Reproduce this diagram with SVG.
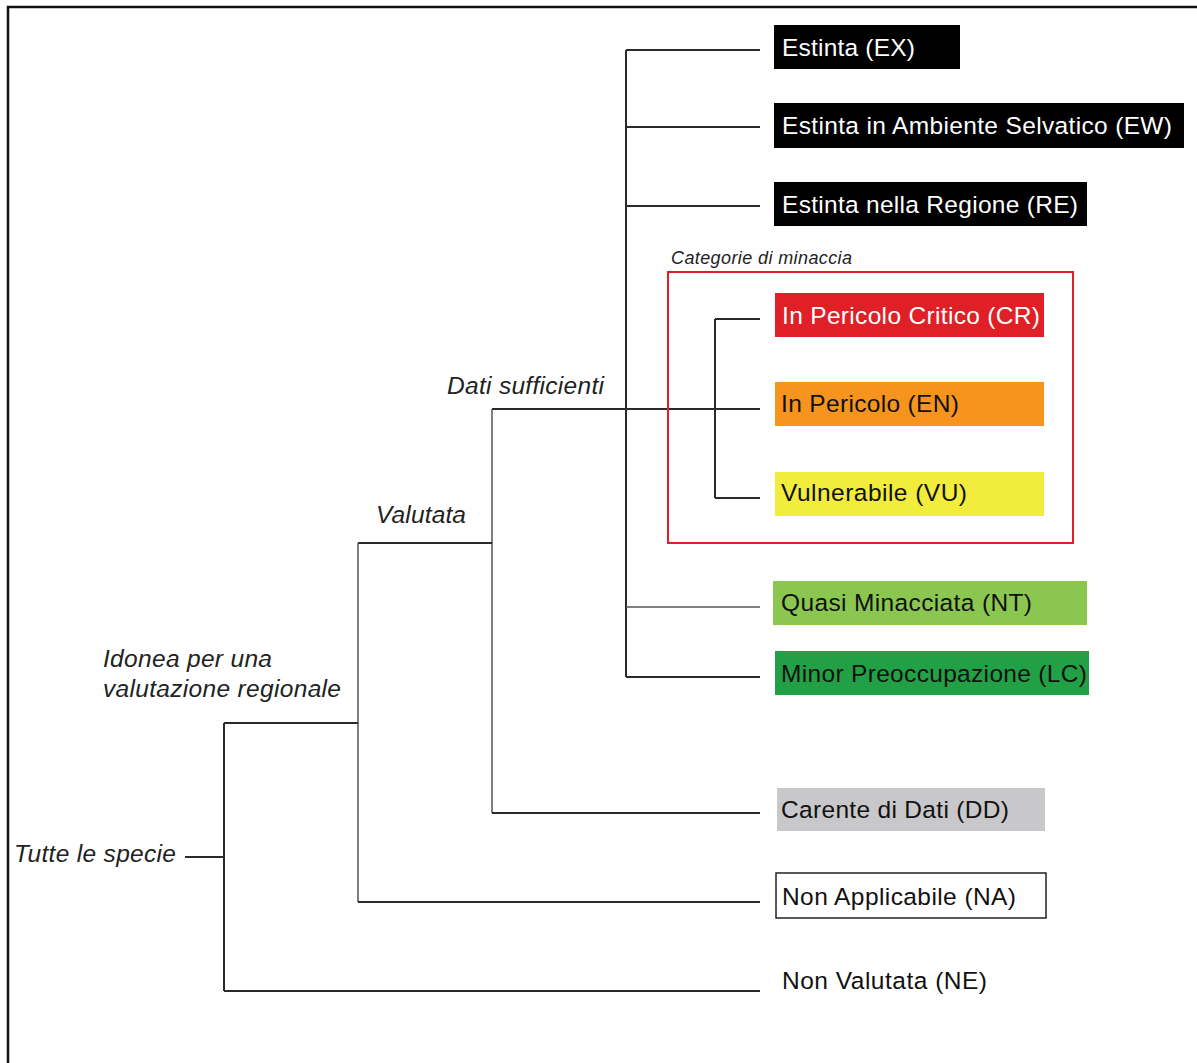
<svg xmlns="http://www.w3.org/2000/svg" width="1197" height="1063" viewBox="0 0 1197 1063">
<style>
.ln{fill:none;stroke:#2a2a2a;stroke-width:2}
.thin{fill:none;stroke:#555;stroke-width:1.5}
.t{font-family:"Liberation Sans",Arial,sans-serif;font-size:24.5px}
.it{font-family:"Liberation Sans",Arial,sans-serif;font-size:24.5px;font-style:italic;fill:#222}
.w{fill:#fff}
.b{fill:#111}
</style>
<rect width="1197" height="1063" fill="#fff"/>
<path d="M8,1063 V7 H1197" fill="none" stroke="#111" stroke-width="2.5"/>
<g id="connectors">
<path class="ln" d="M626,50 V677"/>
<path class="ln" d="M626,50 H760"/>
<path class="ln" d="M626,127 H760"/>
<path class="ln" d="M626,206 H760"/>
<path class="thin" d="M626,607 H760"/>
<path class="ln" d="M626,677 H760"/>
<path class="ln" d="M492,409 H760"/>
<path class="ln" d="M715,319 V498"/>
<path class="ln" d="M715,319 H760"/>
<path class="ln" d="M715,498 H760"/>
<path class="thin" d="M492,409 V813"/>
<path class="ln" d="M492,813 H760"/>
<path class="ln" d="M358,543 H492"/>
<path class="thin" d="M358,543 V902"/>
<path class="ln" d="M358,902 H760"/>
<path class="ln" d="M224,723 H358"/>
<path class="ln" d="M224,723 V991"/>
<path class="ln" d="M224,991 H760"/>
<path class="ln" d="M185,857 H224"/>
</g>
<g id="labels">
<text class="it" x="447" y="394" textLength="157">Dati sufficienti</text>
<text class="it" x="376" y="523" textLength="90">Valutata</text>
<text class="it" x="103" y="667" textLength="169">Idonea per una</text>
<text class="it" x="103" y="697" textLength="238">valutazione regionale</text>
<text class="it" x="14" y="862" textLength="162">Tutte le specie</text>
</g>
<g id="threat-group">
<rect x="668" y="272" width="405" height="271" fill="none" stroke="#e31e24" stroke-width="2"/>
<text x="671" y="264" font-family="'Liberation Sans',Arial,sans-serif" font-size="18" font-style="italic" fill="#222" textLength="181">Categorie di minaccia</text>
</g>
<g id="EX"><rect x="774" y="25" width="186" height="44" fill="#000"/><text class="t w" x="782" y="56" textLength="133">Estinta (EX)</text></g>
<g id="EW"><rect x="774" y="103" width="410" height="45" fill="#000"/><text class="t w" x="782" y="134" textLength="390">Estinta in Ambiente Selvatico (EW)</text></g>
<g id="RE"><rect x="774" y="182" width="313" height="44" fill="#000"/><text class="t w" x="782" y="213" textLength="296">Estinta nella Regione (RE)</text></g>
<g id="CR"><rect x="775" y="293" width="269" height="44" fill="#e01f26"/><text class="t w" x="782" y="324" textLength="258">In Pericolo Critico (CR)</text></g>
<g id="EN"><rect x="775" y="382" width="269" height="44" fill="#f7941d"/><text class="t b" x="781" y="412" textLength="178">In Pericolo (EN)</text></g>
<g id="VU"><rect x="775" y="472" width="269" height="44" fill="#f2ec3c"/><text class="t b" x="781" y="501" textLength="186">Vulnerabile (VU)</text></g>
<g id="NT"><rect x="773" y="581" width="314" height="44" fill="#8bc750"/><text class="t b" x="781" y="611" textLength="251">Quasi Minacciata (NT)</text></g>
<g id="LC"><rect x="775" y="651" width="314" height="44" fill="#21a045"/><text class="t b" x="781" y="682" textLength="306">Minor Preoccupazione (LC)</text></g>
<g id="DD"><rect x="777" y="788" width="268" height="43" fill="#c8c8ca"/><text class="t b" x="781" y="818" textLength="228">Carente di Dati (DD)</text></g>
<g id="NA"><rect x="776" y="873" width="270" height="45" fill="#fff" stroke="#222" stroke-width="1.5"/><text class="t b" x="782" y="905" textLength="234">Non Applicabile (NA)</text></g>
<g id="NE"><text class="t b" x="782" y="989" textLength="205">Non Valutata (NE)</text></g>
</svg>
